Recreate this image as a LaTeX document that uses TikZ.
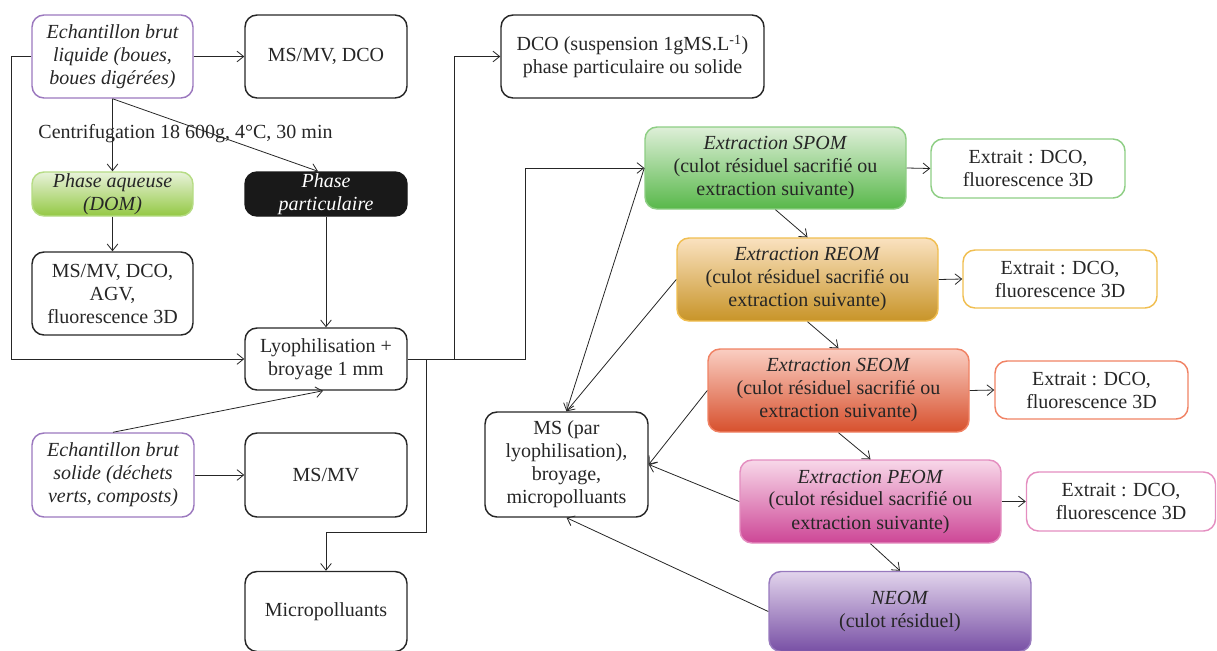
\documentclass[tikz,border=0pt]{standalone}
\usepackage{fontspec}
\setmainfont{Liberation Serif}
\usetikzlibrary{arrows.meta,calc}
\definecolor{ink}{RGB}{38,38,38}
\definecolor{purp}{RGB}{155,120,190}
\definecolor{paT}{RGB}{232,243,218}\definecolor{paB}{RGB}{148,200,68}\definecolor{paD}{RGB}{182,220,132}
\definecolor{spT}{RGB}{222,239,216}\definecolor{spB}{RGB}{88,184,74}\definecolor{spD}{RGB}{142,206,132}
\definecolor{reT}{RGB}{250,226,192}\definecolor{reB}{RGB}{200,148,40}\definecolor{reD}{RGB}{240,190,80}
\definecolor{seT}{RGB}{250,206,194}\definecolor{seB}{RGB}{215,80,45}\definecolor{seD}{RGB}{240,130,100}
\definecolor{peT}{RGB}{248,216,233}\definecolor{peB}{RGB}{205,70,150}\definecolor{peD}{RGB}{228,142,192}
\definecolor{neT}{RGB}{226,212,236}\definecolor{neB}{RGB}{120,80,165}\definecolor{neD}{RGB}{152,122,190}
\tikzset{
 every node/.style={font=\fontsize{15}{17.25}\selectfont, align=center, inner sep=0pt, text=ink},
 box/.style={draw=ink, line width=1.1pt, rounded corners=9pt},
 sz/.style 2 args={minimum width=#1*0.75pt, minimum height=#2*0.75pt},
 arr/.style={-{Straight Barb[length=5pt,width=8pt]}, line width=0.6pt, draw=ink},
 grad/.style n args={3}{box, draw=#3, top color=#1, bottom color=#2},
 itfont/.style={font=\fontsize{15}{17.25}\selectfont\itshape}
}
\begin{document}
\begin{tikzpicture}[x=0.75pt,y=-0.75pt]
\useasboundingbox (0,0) rectangle (1217,650);

% left column
\node[box, draw=purp, sz={161}{83}, itfont] (A) at (112.5,56.5) {Echantillon brut\\liquide (boues,\\boues digérées)};
\node[box, sz={162}{83}] (B) at (326,56.5) {MS/MV, DCO};
\node[box, sz={263}{83}] (C) at (632.5,56.5) {DCO (suspension 1gMS.L\textsuperscript{-1})\\phase particulaire ou solide};
\node (cent) at (185.5,134) {Centrifugation 18 600g, 4°C, 30 min};
\node[grad={paT}{paB}{paD}, sz={161}{44}, itfont] (PA) at (112.5,194) {Phase aqueuse\\(DOM)};
\node[box, draw=black!90, fill=black!90, sz={162}{44}, text=white, itfont] (PP) at (326,194) {Phase\\particulaire};
\node[box, sz={161}{83}] (D) at (112.5,293.5) {MS/MV, DCO,\\AGV,\\fluorescence 3D};
\node[box, sz={162}{62}] (L) at (326,359) {Lyophilisation +\\broyage 1 mm};
\node[box, draw=purp, sz={162}{84}, itfont] (S) at (113,475) {Echantillon brut\\solide (déchets\\verts, composts)};
\node[box, sz={162}{84}] (M) at (326,475) {MS/MV};
\node[box, sz={162}{80}] (Mi) at (326,611.5) {Micropolluants};
\node[box, sz={163}{105}] (MS) at (566.5,464.5) {MS (par\\lyophilisation),\\broyage,\\micropolluants};

% extractions
\node[grad={spT}{spB}{spD}, sz={261}{82}] (SP) at (775.5,168) {\textit{Extraction SPOM}\\(culot résiduel sacrifié ou\\extraction suivante)};
\node[box, draw=spD, sz={194}{59}] (ESP) at (1028,168.5) {Extrait : DCO,\\fluorescence 3D};
\node[grad={reT}{reB}{reD}, sz={261}{83}] (RE) at (807.5,279.5) {\textit{Extraction REOM}\\(culot résiduel sacrifié ou\\extraction suivante)};
\node[box, draw=reD, sz={194}{58}] (ERE) at (1060,279) {Extrait : DCO,\\fluorescence 3D};
\node[grad={seT}{seB}{seD}, sz={261}{83}] (SE) at (838.5,390.5) {\textit{Extraction SEOM}\\(culot résiduel sacrifié ou\\extraction suivante)};
\node[box, draw=seD, sz={193}{58}] (ESE) at (1091.5,390) {Extrait : DCO,\\fluorescence 3D};
\node[grad={peT}{peB}{peD}, sz={261}{83}] (PE) at (870.5,501.5) {\textit{Extraction PEOM}\\(culot résiduel sacrifié ou\\extraction suivante)};
\node[box, draw=peD, sz={189}{59}] (EPE) at (1121,501.5) {Extrait : DCO,\\fluorescence 3D};
\node[grad={neT}{neB}{neD}, sz={262}{80}] (NE) at (900,611.5) {\textit{NEOM}\\(culot résiduel)};

% junction coordinates
\coordinate (jl) at (11,56.5);
\coordinate (j1) at (454,56.5);
\coordinate (j2) at (525,168);
\coordinate (j3) at (426,532);

% connectors
\draw[arr] (A.west) -- (jl) |- (L.west);
\draw[arr] (A.east) -- (B.west);
\draw[arr] (A.south) -- (PA.north);
\draw[arr] (A.south) -- ($(PP.north)+(-8,0)$);
\draw[arr] (PA.south) -- (D.north);
\draw[arr] (PP.south) -- (L.north);
\draw[arr] (S.north) -- ($(L.south)+(-3,0)$);
\draw[arr] (S.east) -- (M.west);
\draw[arr] (L.east) -| (j1) -- (C.west);
\draw[arr] (L.east) -| (j2) -- (SP.west);
\draw[arr] (L.east) -| (j3) -| (Mi.north);

\draw[arr] (SP.east) -- (ESP.west);
\draw[arr] (RE.east) -- (ERE.west);
\draw[arr] (SE.east) -- (ESE.west);
\draw[arr] (PE.east) -- (EPE.west);
\draw[arr] (SP.south) -- (RE.north);
\draw[arr] (RE.south) -- (SE.north);
\draw[arr] (SE.south) -- (PE.north);
\draw[arr] (PE.south) -- (NE.north);

\draw[arr] (SP.west) -- (MS.north);
\draw[arr] (RE.west) -- (MS.north);
\draw[arr] (SE.west) -- (MS.east);
\draw[arr] (PE.west) -- (MS.east);
\draw[arr] (NE.west) -- (MS.south);
\end{tikzpicture}
\end{document}
